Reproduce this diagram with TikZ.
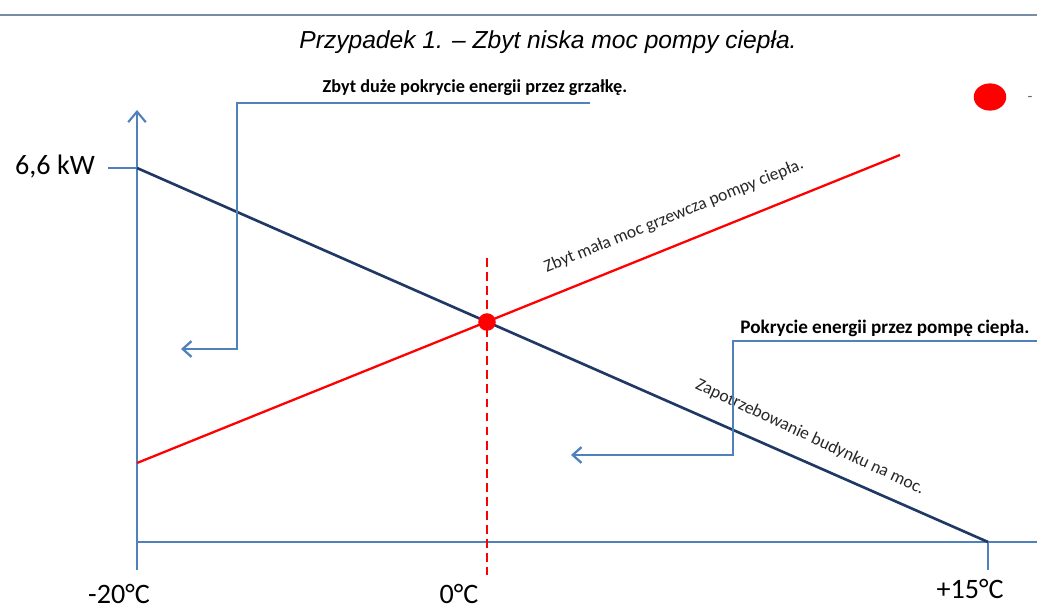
\documentclass[tikz,border=0pt]{standalone}
\usepackage{fontspec}
\setmainfont{Carlito}
\newfontfamily\titlefont{Liberation Sans}
\usepackage{xcolor}
\usepackage{tikz}
\usetikzlibrary{arrows.meta, shapes.geometric}

\definecolor{axisblue}{RGB}{79,129,189}
\definecolor{demandblue}{RGB}{31,56,100}
\definecolor{pumpred}{RGB}{255,0,0}
\definecolor{rulegray}{RGB}{120,140,165}

\begin{document}
\begin{tikzpicture}[x=0.02cm, y=-0.02cm,
    axisline/.style={axisblue, line width=1.2pt},
    callout/.style={axisblue, line width=1.3pt, -{Straight Barb[length=5pt,width=9pt]}},
    calloutlabel/.style={font=\bfseries\fontsize{10.4}{12}\selectfont, inner sep=1pt},
    linelabel/.style={font=\fontsize{10}{12}\selectfont, inner sep=1pt, text=black!85}]
    \useasboundingbox (0,0) rectangle (1037,607);

    % rule and title
    \coordinate (ruleL) at (0,15);
    \coordinate (ruleR) at (1037,15);
    \draw[rulegray, line width=0.8pt] (ruleL) -- (ruleR);
    \node (title) at (548,42) {\titlefont\itshape\fontsize{14}{16}\selectfont Przypadek 1. – Zbyt niska moc pompy ciepła.};

    % axes
    \coordinate (ytop) at (137,110);
    \coordinate (ybot) at (137,570);
    \coordinate (origin) at (137,542);
    \coordinate (xend) at (1037,542);
    \coordinate (ymax) at (137,168);
    \coordinate (ytick) at (108,168);
    \coordinate (xzero) at (988,542);
    \coordinate (xtick) at (988,570);
    \draw[axisline, -{Straight Barb[length=6pt,width=10pt]}] (ybot) -- (ytop);
    \draw[axisline] (origin) -- (xend);
    \draw[axisline] (ytick) -- (ymax);
    \draw[axisline] (xzero) -- (xtick);
    \node (kw) at (55,167) {\fontsize{16}{18}\selectfont 6,6 kW};
    \foreach \px/\py/\txt/\nm in {119/594/-20°C/tmin, 459/594/0°C/tnull, 970/589/+15°C/tmax} {
        % temperature under the axis
        \node (\nm) at (\px,\py) {\fontsize{16}{18}\selectfont \txt};
    }

    % building demand and heat pump power
    \coordinate (pumpL) at (137,463);
    \coordinate (pumpR) at (900,155);
    \coordinate (dashT) at (487,258);
    \coordinate (dashB) at (487,575);
    \draw[demandblue, line width=1.5pt] (ymax) -- (xzero);
    \draw[pumpred, line width=1.3pt] (pumpL) -- (pumpR);
    \draw[pumpred, line width=1.2pt, dash pattern=on 5pt off 3pt] (dashT) -- (dashB);
    \node[circle, fill=pumpred, minimum size=10pt, inner sep=0pt] (balance) at (487,322) {};
    \node[linelabel, rotate=22] (pumplabel) at (674,216) {Zbyt mała moc grzewcza pompy ciepła.};
    \node[linelabel, rotate=-25] (demandlabel) at (810,437) {Zapotrzebowanie budynku na moc.};

    % callouts
    \coordinate (heatR) at (590,103);
    \coordinate (heatC) at (237,103);
    \coordinate (heatD) at (237,349);
    \coordinate (heatA) at (181,349);
    \draw[callout] (heatR) -- (heatC) -- (heatD) -- (heatA);
    \node[calloutlabel] (heatlabel) at (475,88) {Zbyt duże pokrycie energii przez grzałkę.};
    \coordinate (coverR) at (1037,341);
    \coordinate (coverC) at (733,341);
    \coordinate (coverD) at (733,455);
    \coordinate (coverA) at (571,455);
    \draw[callout] (coverR) -- (coverC) -- (coverD) -- (coverA);
    \node[calloutlabel, font=\bfseries\fontsize{10.9}{12}\selectfont] (coverlabel) at (885,328) {Pokrycie energii przez pompę ciepła.};

    % legend
    \node[ellipse, fill=pumpred, minimum width=18.5pt, minimum height=15.5pt, inner sep=0pt] (legenddot) at (990,97) {};
    \node[text=black!60, font=\small] (legendtext) at (1030,99) {-};
\end{tikzpicture}
\end{document}
